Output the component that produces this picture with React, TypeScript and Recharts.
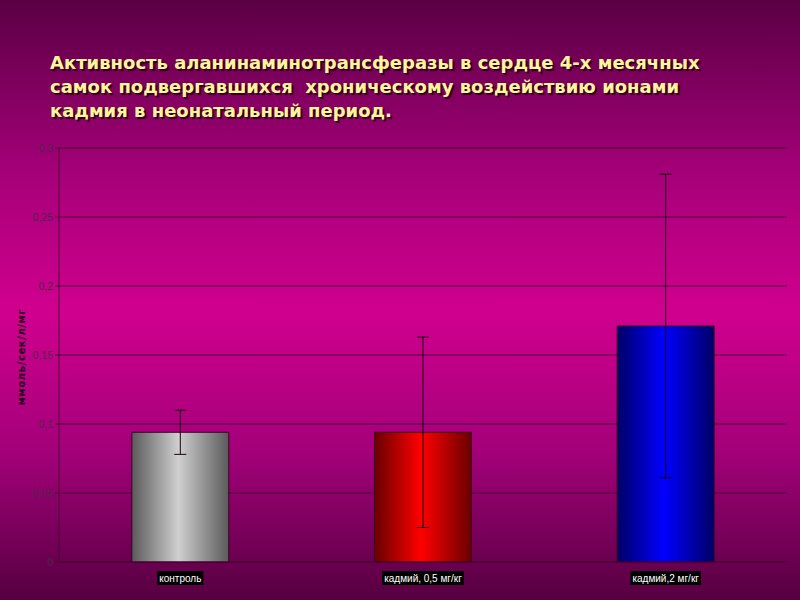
import { useLayoutEffect, useRef, useState } from "react";
import {
  BarChart,
  Bar,
  Cell,
  XAxis,
  YAxis,
  CartesianGrid,
  ErrorBar,
} from "recharts";

const categories = ["контроль", "кадмий, 0,5 мг/кг", "кадмий,2 мг/кг"];
const values = [0.094, 0.094, 0.171];
const errors = [0.016, 0.069, 0.11];
const yTicks = [0, 0.05, 0.1, 0.15, 0.2, 0.25, 0.3];

const titleLines = [
  "Активность аланинаминотрансферазы в сердце 4-х месячных",
  "самок подвергавшихся  хроническому воздействию ионами",
  "кадмия в неонатальный период.",
];

const gradients = [
  { id: "gGray", edge: "#5a5a5a", mid: "#cfcfcf" },
  { id: "gRed", edge: "#6a0000", mid: "#ff0000" },
  { id: "gBlue", edge: "#000066", mid: "#0000ff" },
];

const data = categories.map((name, i) => ({
  name,
  value: values[i],
  err: errors[i],
}));

const fmt = (v: number) => String(v).replace(".", ",");

function XTick(props: any) {
  const { x, y, payload } = props;
  const ref = useRef<SVGTextElement>(null);
  const [w, setW] = useState(0);
  useLayoutEffect(() => {
    if (ref.current) setW(ref.current.getComputedTextLength());
  }, [payload.value]);
  return (
    <g>
      <rect x={x - w / 2 - 2} y={y + 1} width={w + 4} height={14} fill="#000" />
      <text
        ref={ref}
        x={x}
        y={y + 12}
        textAnchor="middle"
        fill="#fff"
        fontSize={10}
        fontFamily="'Liberation Sans', Arial, sans-serif"
      >
        {payload.value}
      </text>
    </g>
  );
}

export default function App() {
  return (
    <div
      style={{
        position: "absolute",
        left: 0,
        top: 0,
        width: 800,
        height: 600,
        overflow: "hidden",
        background:
          "linear-gradient(to bottom, #5a0044 0%, #a8007a 30%, #d0008e 52%, #a4007a 75%, #560040 100%)",
      }}
    >
      <div
        style={{
          position: "absolute",
          left: 50,
          top: 51,
          fontFamily: "'DejaVu Sans', Tahoma, sans-serif",
          fontWeight: "bold",
          fontSize: 18,
          lineHeight: "24px",
          color: "#fff59c",
          textShadow: "2px 2px 1px #2a0018",
          whiteSpace: "pre",
        }}
      >
        {titleLines.map((t) => (
          <div key={t}>{t}</div>
        ))}
      </div>
      <BarChart
        width={800}
        height={600}
        data={data}
        margin={{ top: 148, right: 13, bottom: 8, left: 19 }}
        barCategoryGap="30%"
        style={{ position: "absolute", left: 0, top: 0 }}
      >
        <defs>
          {gradients.map((g) => (
            <linearGradient key={g.id} id={g.id} x1="0" y1="0" x2="1" y2="0">
              <stop offset="0%" stopColor={g.edge} />
              <stop offset="48%" stopColor={g.mid} />
              <stop offset="100%" stopColor={g.edge} />
            </linearGradient>
          ))}
        </defs>
        <CartesianGrid vertical={false} stroke="#4a0034" strokeWidth={1} />
        <XAxis
          dataKey="name"
          height={30}
          axisLine={{ stroke: "#4a0034" }}
          tickLine={false}
          tick={(p: any) => <XTick {...p} />}
          interval={0}
        />
        <YAxis
          width={40}
          domain={[0, 0.3]}
          ticks={yTicks}
          tickFormatter={fmt}
          axisLine={{ stroke: "#4a0034" }}
          tickLine={{ stroke: "#4a0034" }}
          tickSize={4}
          tick={{
            fill: "#55224c",
            fontSize: 10.5,
            fontFamily: "'Liberation Sans', Arial, sans-serif",
          }}
          label={{
            content: () => (
              <text
                x={25}
                y={357}
                transform="rotate(-90, 25, 357)"
                textAnchor="middle"
                fill="#2a0020"
                fontSize={10}
                fontWeight="bold"
                letterSpacing={0.6}
                fontFamily="'DejaVu Sans', Arial, sans-serif"
              >
                ммоль/сек/л/мг
              </text>
            ),
          }}
        />
        <Bar dataKey="value" stroke="#3a0024" strokeWidth={1} isAnimationActive={false}>
          {data.map((d, i) => (
            <Cell key={d.name} fill={`url(#${gradients[i].id})`} />
          ))}
          <ErrorBar
            dataKey="err"
            width={6}
            stroke="#1a0010"
            strokeWidth={1}
            direction="y"
            isAnimationActive={false}
          />
        </Bar>
      </BarChart>
    </div>
  );
}
